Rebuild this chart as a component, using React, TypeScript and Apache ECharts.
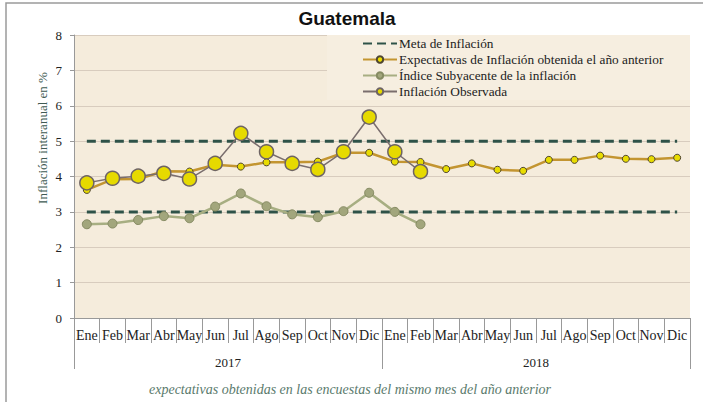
import React, { useEffect, useRef } from "react";
import * as echarts from "echarts";

const months = ["Ene","Feb","Mar","Abr","May","Jun","Jul","Ago","Sep","Oct","Nov","Dic","Ene","Feb","Mar","Abr","May","Jun","Jul","Ago","Sep","Oct","Nov","Dic"];
const years = ["2017", "2018"];
const metaLow = Array(24).fill(3);
const metaHigh = Array(24).fill(5);
const expectativas = [3.62,3.92,3.93,4.15,4.14,4.33,4.28,4.40,4.40,4.42,4.67,4.67,4.42,4.41,4.21,4.37,4.19,4.16,4.47,4.47,4.59,4.50,4.49,4.53];
const subyacente: (number | null)[] = [2.65,2.67,2.77,2.88,2.82,3.15,3.52,3.16,2.93,2.85,3.02,3.54,3.0,2.65,null,null,null,null,null,null,null,null,null,null];
const observada: (number | null)[] = [3.82,3.95,4.01,4.09,3.93,4.37,5.22,4.70,4.37,4.20,4.70,5.68,4.70,4.14,null,null,null,null,null,null,null,null,null,null];

const serif = "'Liberation Serif', 'DejaVu Serif', serif";

export default function App() {
  const ref = useRef<HTMLDivElement>(null);
  useEffect(() => {
    const chart = echarts.init(ref.current!, null, { renderer: "svg" });
    const metaStyle = { color: "#2E5248", width: 3, type: [9, 5] as any };
    chart.setOption({
      animation: false,
      backgroundColor: "#fff",
      graphic: [
        { type: "rect", z: 10, silent: true, shape: { x: 6, y: 3, width: 720, height: 420 }, style: { fill: "none", stroke: "#9a9a9a", lineWidth: 1.5 } },
        { type: "rect", z: 1, silent: true, shape: { x: 327, y: 35, width: 363, height: 65 }, style: { fill: "#F6EEE0" } },
        { type: "text", z: 5, x: 347, y: 18, style: { text: "Guatemala", font: "bold 19px 'Liberation Sans', Arial, sans-serif", fill: "#111", align: "center", verticalAlign: "middle" } },
        { type: "text", z: 5, x: 350, y: 389, style: { text: "expectativas obtenidas en las encuestas del mismo mes del año anterior", font: "italic 14px " + serif, fill: "#5A7A6C", align: "center", verticalAlign: "middle" } },
        { type: "text", z: 5, x: 42, y: 138, rotation: Math.PI / 2, style: { text: "Inflación interanual en %", font: "13px " + serif, fill: "#3E5A52", align: "center", verticalAlign: "middle" } },
      ],
      legend: {
        orient: "vertical",
        left: 357,
        top: 32,
        itemWidth: 34,
        itemHeight: 8,
        itemGap: 3,
        data: [
          { name: "Meta de Inflación", itemStyle: { opacity: 0 } },
          "Expectativas de Inflación obtenida el año anterior",
          "Índice Subyacente de la inflación",
          "Inflación Observada",
        ],
        textStyle: { fontFamily: serif, fontSize: 13.3, color: "#222", padding: [0, 0, 0, -3] },
      },
      grid: { left: 74, right: 13, top: 35, bottom: 84, show: true, backgroundColor: "#F5ECDC", borderWidth: 0 },
      xAxis: [
        {
          type: "category",
          data: months,
          position: "bottom",
          axisLine: { show: true, lineStyle: { color: "#999", width: 1 } },
          axisTick: { show: true, interval: 0, length: 25, lineStyle: { color: "#999" } },
          axisLabel: { interval: 0, margin: 10, fontFamily: serif, fontSize: 14, color: "#222" },
        },
        {
          type: "category",
          data: years,
          position: "bottom",
          axisLine: { show: false },
          axisTick: { show: true, interval: 0, length: 51, lineStyle: { color: "#999" } },
          axisLabel: { interval: 0, margin: 38, fontFamily: serif, fontSize: 13, color: "#222" },
        },
      ],
      yAxis: {
        type: "value",
        min: 0,
        max: 8,
        interval: 1,
        axisLine: { show: true, lineStyle: { color: "#999" } },
        axisTick: { show: true, length: 4, lineStyle: { color: "#999" } },
        axisLabel: { margin: 12, fontFamily: serif, fontSize: 13, color: "#222" },
        splitLine: { show: true, lineStyle: { color: "#D8CCBE", width: 1 } },
      },
      series: [
        { name: "Meta de Inflación", type: "line", data: metaLow, symbol: "none", lineStyle: metaStyle, itemStyle: { color: "#2E5248" }, z: 2 },
        { name: "Meta de Inflación", type: "line", data: metaHigh, symbol: "none", lineStyle: metaStyle, itemStyle: { color: "#2E5248" }, z: 2 },
        {
          name: "Expectativas de Inflación obtenida el año anterior",
          type: "line",
          data: expectativas,
          symbol: "circle",
          symbolSize: 7,
          lineStyle: { color: "#C39531", width: 2.5 },
          itemStyle: { color: "#E8DC00", borderColor: "#4F4530", borderWidth: 1 },
          z: 3,
        },
        {
          name: "Índice Subyacente de la inflación",
          type: "line",
          data: subyacente,
          symbol: "circle",
          symbolSize: 9,
          lineStyle: { color: "#A7AE82", width: 2.5 },
          itemStyle: { color: "#A2A67C", borderColor: "#858A62", borderWidth: 1 },
          z: 3,
        },
        {
          name: "Inflación Observada",
          type: "line",
          data: observada,
          symbol: "circle",
          symbolSize: 14,
          lineStyle: { color: "#7A6E6E", width: 1.5 },
          itemStyle: { color: "#E6DA00", borderColor: "#6E6464", borderWidth: 1.5 },
          z: 4,
        },
      ],
    });
    return () => chart.dispose();
  }, []);
  return <div ref={ref} style={{ width: 703, height: 402, position: "absolute", left: 0, top: 0 }} />;
}
